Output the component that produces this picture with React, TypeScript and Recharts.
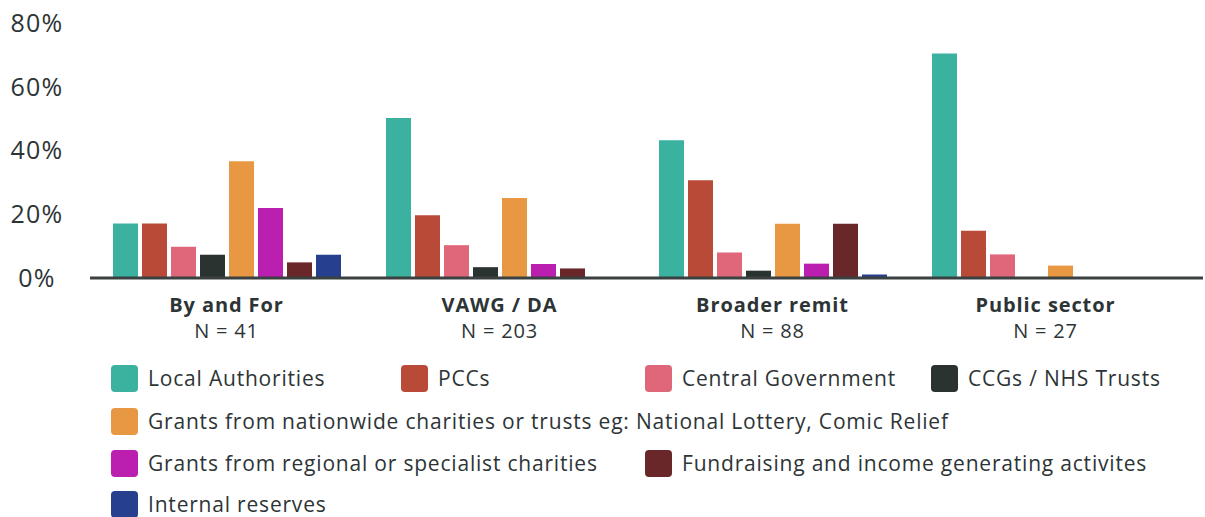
import React from "react";
import { BarChart, Bar, XAxis, YAxis } from "recharts";

// categories and sample sizes
const categories = ["By and For", "VAWG / DA", "Broader remit", "Public sector"];
const sampleLabels = ["N = 41", "N = 203", "N = 88", "N = 27"];

// share of organisations receiving each funding type (%)
const localAuthorities = [17.1, 50.2, 43.2, 70.4];
const pccs = [17.1, 19.7, 30.7, 14.8];
const centralGovernment = [9.8, 10.3, 8.0, 7.4];
const ccgsNhs = [7.3, 3.4, 2.3, 0];
const grantsNational = [36.6, 25.1, 17.0, 3.9];
const grantsRegional = [22.0, 4.4, 4.5, 0];
const fundraising = [4.9, 3.0, 17.0, 0];
const internalReserves = [7.3, 0, 1.1, 0];

const yTicks = [0, 20, 40, 60, 80];

const series = [
  { key: "la", name: "Local Authorities", values: localAuthorities, color: "#3bb2a0" },
  { key: "pcc", name: "PCCs", values: pccs, color: "#b94a37" },
  { key: "cg", name: "Central Government", values: centralGovernment, color: "#e0677a" },
  { key: "ccg", name: "CCGs / NHS Trusts", values: ccgsNhs, color: "#2b3331" },
  {
    key: "gn",
    name: "Grants from nationwide charities or trusts eg: National Lottery, Comic Relief",
    values: grantsNational,
    color: "#e89843",
  },
  { key: "gr", name: "Grants from regional or specialist charities", values: grantsRegional, color: "#bb1fb0" },
  { key: "fr", name: "Fundraising and income generating activites", values: fundraising, color: "#6a272a" },
  { key: "ir", name: "Internal reserves", values: internalReserves, color: "#263f8f" },
];

const data = categories.map((c, i) => {
  const row: Record<string, string | number> = { category: c, n: sampleLabels[i] };
  series.forEach((s) => (row[s.key] = s.values[i]));
  return row;
});

// legend slots: [left, centre y]
const legendSlots = [
  [111, 378],
  [401, 378],
  [645, 378],
  [931, 378],
  [111, 421],
  [111, 463],
  [645, 463],
  [111, 504],
];

const textColor = "#2d3436";
const font = "'Open Sans', sans-serif";

const CategoryTick = (props: any) => {
  const { x, payload, index } = props;
  return (
    <g>
      <text
        x={x}
        y={312}
        textAnchor="middle"
        fill={textColor}
        fontSize={20}
        fontWeight={700}
        fontFamily={font}
        letterSpacing={0.9}
      >
        {payload.value}
      </text>
      <text x={x} y={338} textAnchor="middle" fill={textColor} fontSize={20} fontFamily={font} letterSpacing={0.8}>
        {sampleLabels[index]}
      </text>
    </g>
  );
};

export default function App() {
  return (
    <div style={{ position: "absolute", left: 0, top: 0, width: 1205, height: 517, background: "#fff", fontFamily: font }}>
      <BarChart
        width={1205}
        height={345}
        data={data}
        margin={{ top: 23, right: 2, bottom: 7, left: 0 }}
        barSize={25}
        barGap={4}
      >
        <XAxis
          dataKey="category"
          axisLine={{ stroke: "#3a4140", strokeWidth: 3 }}
          tickLine={false}
          height={60}
          padding={{ left: 0, right: 21 }}
          tick={<CategoryTick />}
          interval={0}
        />
        <YAxis
          width={90}
          domain={[0, 80]}
          ticks={yTicks}
          axisLine={false}
          tickLine={false}
          tickMargin={47}
          tickFormatter={(v: number) => `${v}%`}
          tick={{ textAnchor: "middle", fill: textColor, fontSize: 25, fontFamily: font, letterSpacing: 1.3 }}
        />
        {series.map((s) => (
          <Bar key={s.key} dataKey={s.key} name={s.name} fill={s.color} isAnimationActive={false} />
        ))}
      </BarChart>
      {series.map((s, i) => (
        <div
          key={s.key}
          style={{
            position: "absolute",
            left: legendSlots[i][0],
            top: legendSlots[i][1] - 14,
            height: 28,
            display: "flex",
            alignItems: "center",
            whiteSpace: "nowrap",
          }}
        >
          <span
            style={{
              display: "inline-block",
              width: 27,
              height: 27,
              borderRadius: 4,
              background: s.color,
              marginRight: 10,
            }}
          />
          <span style={{ fontSize: 21, color: textColor, letterSpacing: 0.8 }}>{s.name}</span>
        </div>
      ))}
    </div>
  );
}
